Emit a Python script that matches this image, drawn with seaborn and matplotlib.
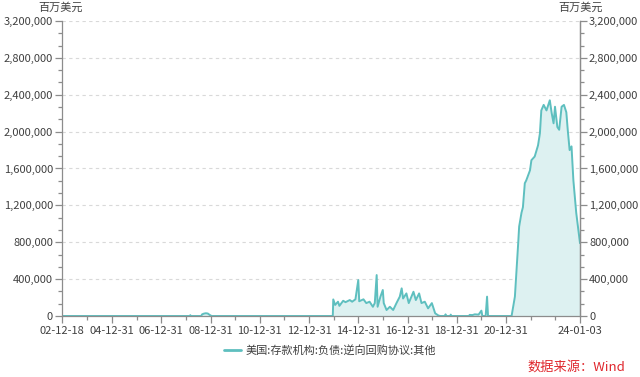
import pandas as pd
import matplotlib
matplotlib.use("Agg")
import matplotlib.pyplot as plt
import matplotlib.dates as mdates
from matplotlib.ticker import MultipleLocator, AutoMinorLocator, FuncFormatter
from matplotlib.lines import Line2D
import seaborn as sns

# 数据 (百万美元)
dates = [
    "2002-12-18", "2005-06-29", "2008-01-02", "2008-02-27", "2008-03-05", "2008-03-12",
    "2008-08-13", "2008-08-27", "2008-09-24", "2008-10-22", "2008-11-19", "2008-12-17",
    "2009-01-14", "2013-12-18", "2013-12-25", "2014-01-22", "2014-03-05", "2014-03-26",
    "2014-05-21", "2014-06-25", "2014-08-27", "2014-10-01", "2014-11-19", "2014-12-31",
    "2015-01-14", "2015-03-18", "2015-04-29", "2015-06-17", "2015-08-05", "2015-09-02",
    "2015-09-30", "2015-10-14", "2015-11-25", "2015-12-30", "2016-01-13", "2016-02-24",
    "2016-04-13", "2016-06-01", "2016-07-20", "2016-09-07", "2016-10-05", "2016-10-26",
    "2016-12-14", "2017-01-18", "2017-03-29", "2017-05-03", "2017-06-21", "2017-07-26",
    "2017-09-13", "2017-11-01", "2017-12-27", "2018-02-14", "2018-04-04", "2018-05-02",
    "2018-07-11", "2018-07-18", "2018-07-25", "2018-09-26", "2018-10-03", "2018-10-10",
    "2019-07-03", "2019-07-10", "2019-08-21", "2019-09-25", "2019-11-20", "2020-01-01",
    "2020-01-15", "2020-03-04", "2020-03-25", "2020-04-08", "2021-03-24", "2021-05-12",
    "2021-06-30", "2021-07-14", "2021-08-18", "2021-09-08", "2021-10-06", "2021-10-27",
    "2021-12-22", "2022-01-12", "2022-03-02", "2022-04-20", "2022-05-18", "2022-06-08",
    "2022-07-13", "2022-08-24", "2022-10-12", "2022-11-09", "2022-12-07", "2022-12-28",
    "2023-02-01", "2023-02-28", "2023-04-05", "2023-05-10", "2023-06-14", "2023-07-05",
    "2023-08-02", "2023-08-30", "2023-09-27", "2023-11-08", "2024-01-03",
]
values = [
    0, 0, 0, 0, 9000, 0,
    0, 18000, 26000, 30000, 27000, 12000,
    0, 0, 180000, 120000, 155000, 110000,
    165000, 150000, 173000, 155000, 181000, 390000,
    160000, 181000, 140000, 155000, 100000, 140000,
    444000, 100000, 210000, 282000, 140000, 65000,
    100000, 65000, 140000, 210000, 300000, 190000,
    245000, 140000, 263000, 173000, 245000, 140000,
    155000, 83000, 140000, 29000, 5000, 0,
    0, 18000, 0, 0, 15000, 0,
    0, 12000, 10000, 18000, 15000, 58000,
    0, 0, 210000, 0, 0, 210000,
    790000, 970000, 1120000, 1180000, 1440000, 1470000,
    1580000, 1690000, 1730000, 1850000, 1980000, 2230000,
    2290000, 2230000, 2340000, 2200000, 2090000, 2270000,
    2050000, 2020000, 2270000, 2290000, 2210000, 2020000,
    1800000, 1840000, 1470000, 1120000, 790000,
]
series_name = "美国:存款机构:负债:逆向回购协议:其他"
unit = "百万美元"
source = "数据来源：Wind"

df = pd.DataFrame({"date": pd.to_datetime(dates), "value": values})

sns.set_style("white")
plt.rcParams["font.family"] = ["Noto Sans CJK SC", "DejaVu Sans"]

line_color = "#5EBFBF"
fill_color = "#DDF1F1"
axis_color = "#8C8C8C"
text_color = "#404040"

fig = plt.figure(figsize=(6.4, 3.77), dpi=100)
ax = fig.add_axes([62 / 640, 1 - 316 / 377, 518 / 640, 295 / 377])

ax.fill_between(df["date"], df["value"], 0, color=fill_color, linewidth=0)
sns.lineplot(data=df, x="date", y="value", ax=ax, color=line_color, linewidth=1.4)

x0 = pd.Timestamp("2002-12-18")
x1 = pd.Timestamp("2024-01-03")
ax.set_xlim(x0, x1)
ax.set_ylim(0, 3200000)
ax.set_xlabel("")
ax.set_ylabel("")

# x ticks
tick_dates = [x0] + [pd.Timestamp(f"{y}-12-31") for y in range(2004, 2021, 2)] + [x1]
tick_labels = [d.strftime("%y-%m-%d") for d in tick_dates]
minor_dates = [pd.Timestamp(f"{y}-12-31") for y in range(2003, 2023)]
ax.set_xticks(tick_dates)
ax.set_xticklabels(tick_labels)
ax.set_xticks(minor_dates, minor=True)

fmt = FuncFormatter(lambda v, p: f"{int(v):,}")
ax.yaxis.set_major_locator(MultipleLocator(400000))
ax.yaxis.set_minor_locator(AutoMinorLocator(3))
ax.yaxis.set_major_formatter(fmt)
ax.grid(axis="y", which="major", color="#D9D9D9", linestyle=(0, (3, 3)), linewidth=0.8)
ax.grid(axis="x", visible=False)

ax2 = ax.twinx()
ax2.set_ylim(ax.get_ylim())
ax2.yaxis.set_major_locator(MultipleLocator(400000))
ax2.yaxis.set_minor_locator(AutoMinorLocator(3))
ax2.yaxis.set_major_formatter(fmt)

for a in (ax, ax2):
    a.spines["top"].set_visible(False)
    for s in ("left", "right", "bottom"):
        a.spines[s].set_color(axis_color)
        a.spines[s].set_linewidth(0.9)
    a.tick_params(which="major", length=5, width=0.9, color=axis_color,
                  labelsize=8, labelcolor=text_color, pad=1.5)
    a.tick_params(which="minor", length=3, width=0.9, color=axis_color)
ax2.spines["left"].set_visible(False)
ax2.spines["bottom"].set_visible(False)
ax.tick_params(axis="x", which="both", bottom=True, direction="out")
ax.tick_params(axis="y", which="both", left=True, direction="out")
ax2.tick_params(axis="y", which="both", right=True, direction="out")
ax.tick_params(axis="x", pad=2)

fig.text(61 / 640, 1 - 8 / 377, unit, ha="center", va="center", fontsize=8, color=text_color)
fig.text(581 / 640, 1 - 8 / 377, unit, ha="center", va="center", fontsize=8, color=text_color)

handle = Line2D([0], [0], color=line_color, linewidth=2)
fig.legend([handle], [series_name], loc="center", bbox_to_anchor=(330 / 640, 1 - 350 / 377),
           frameon=False, fontsize=8, handlelength=1.6, handletextpad=0.4,
           labelcolor=text_color)

fig.text(625 / 640, 1 - 367 / 377, source, ha="right", va="center", fontsize=9.5, color="#E0282E")

fig.savefig("out.png", dpi=100)
